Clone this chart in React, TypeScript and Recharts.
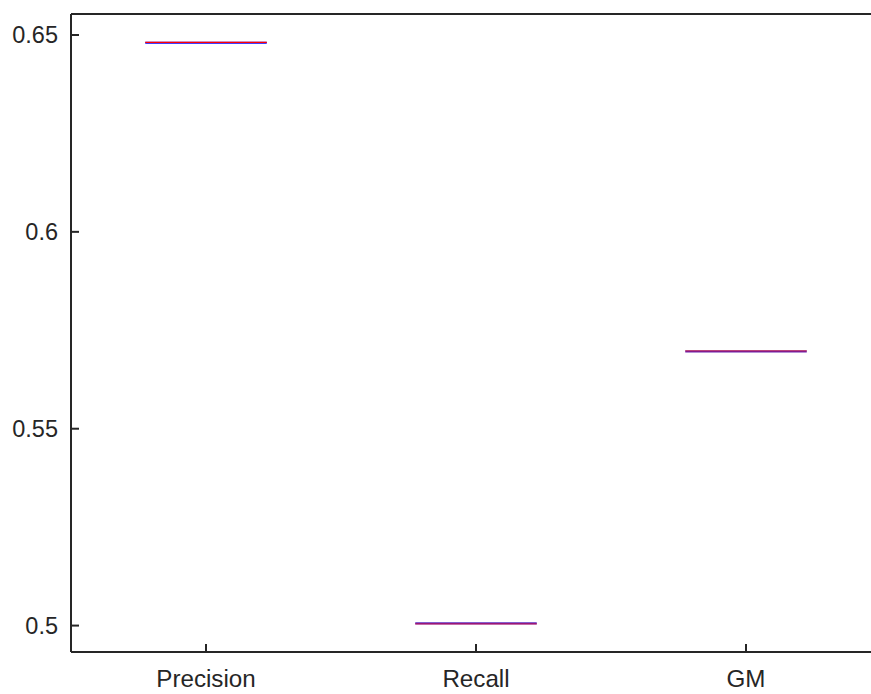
import React from 'react';
import { ComposedChart, XAxis, YAxis, Scatter, ReferenceLine } from 'recharts';

const categories = ['Precision', 'Recall', 'GM'];
const positions = [1, 2, 3];
const values = [0.648, 0.5006, 0.5696];
const yTicks = [0.5, 0.55, 0.6, 0.65];
const xDomain: [number, number] = [0.5, 3.5];
const yDomain: [number, number] = [0.49329, 0.65533];
const halfWidth = 0.225;

const data = positions.map((p, i) => ({ x: p, y: values[i], name: categories[i] }));

const AXIS = '#262626';
const FONT = '"Liberation Sans", Arial, Helvetica, sans-serif';

const YTick = (props: any) => {
  const { x, y, payload } = props;
  return (
    <g>
      <line x1={x} x2={x + 8} y1={y} y2={y} stroke={AXIS} strokeWidth={2} />
      <text x={x - 13} y={y} textAnchor="end" dominantBaseline="central" fontFamily={FONT} fontSize={23.5} fill={AXIS}>
        {String(payload.value)}
      </text>
    </g>
  );
};

const XTick = (props: any) => {
  const { x, y, payload } = props;
  const idx = positions.indexOf(payload.value);
  return (
    <g>
      <line x1={x} x2={x} y1={y} y2={y - 8} stroke={AXIS} strokeWidth={2} />
      <text x={x} y={y + 35} textAnchor="middle" fontFamily={FONT} fontSize={24.2} fill={AXIS}>
        {idx >= 0 ? categories[idx] : ''}
      </text>
    </g>
  );
};

const blueColors = ['#0000ff', '#5a2bc0', '#6a22b0'];
const redColors = ['#ff0000', '#b01060', '#c01040'];
const redOffsets = [-0.5, 0.7, -0.7];
const redWidths = [1.3, 1.3, 0.9];

const makeShape = (color: string, dy: number, w: number) => (p: any) => (
  <line x1={p.x1} x2={p.x2} y1={p.y1 + dy} y2={p.y2 + dy} stroke={color} strokeWidth={w} />
);

export default function App() {
  return (
    <div style={{ position: 'absolute', left: 0, top: 0, width: 871, height: 694, overflow: 'hidden', background: '#fff' }}>
      <ComposedChart width={900} height={694} data={data} margin={{ top: 14, right: 19, bottom: 0, left: 0 }}>
        <XAxis
          type="number"
          dataKey="x"
          domain={xDomain}
          ticks={positions}
          allowDataOverflow
          height={42}
          tickSize={0}
          tickMargin={0}
          tick={<XTick />}
          tickLine={false}
          axisLine={{ stroke: AXIS, strokeWidth: 2 }}
        />
        <YAxis
          type="number"
          dataKey="y"
          domain={yDomain}
          ticks={yTicks}
          allowDataOverflow
          width={71}
          tickSize={0}
          tickMargin={0}
          tick={<YTick />}
          tickLine={false}
          axisLine={{ stroke: AXIS, strokeWidth: 2 }}
        />
        <ReferenceLine y={yDomain[1]} stroke={AXIS} strokeWidth={2} />
        <ReferenceLine x={xDomain[1]} stroke={AXIS} strokeWidth={2} />
        {data.map((d, i) => (
          <ReferenceLine
            key={'b' + i}
            segment={[{ x: d.x - halfWidth, y: d.y }, { x: d.x + halfWidth, y: d.y }]}
            shape={makeShape(blueColors[i], 0, 2)}
          />
        ))}
        {data.map((d, i) => (
          <ReferenceLine
            key={'r' + i}
            segment={[{ x: d.x - halfWidth, y: d.y }, { x: d.x + halfWidth, y: d.y }]}
            shape={makeShape(redColors[i], redOffsets[i], redWidths[i])}
          />
        ))}
        <Scatter dataKey="y" isAnimationActive={false} shape={() => <g />} />
      </ComposedChart>
    </div>
  );
}
